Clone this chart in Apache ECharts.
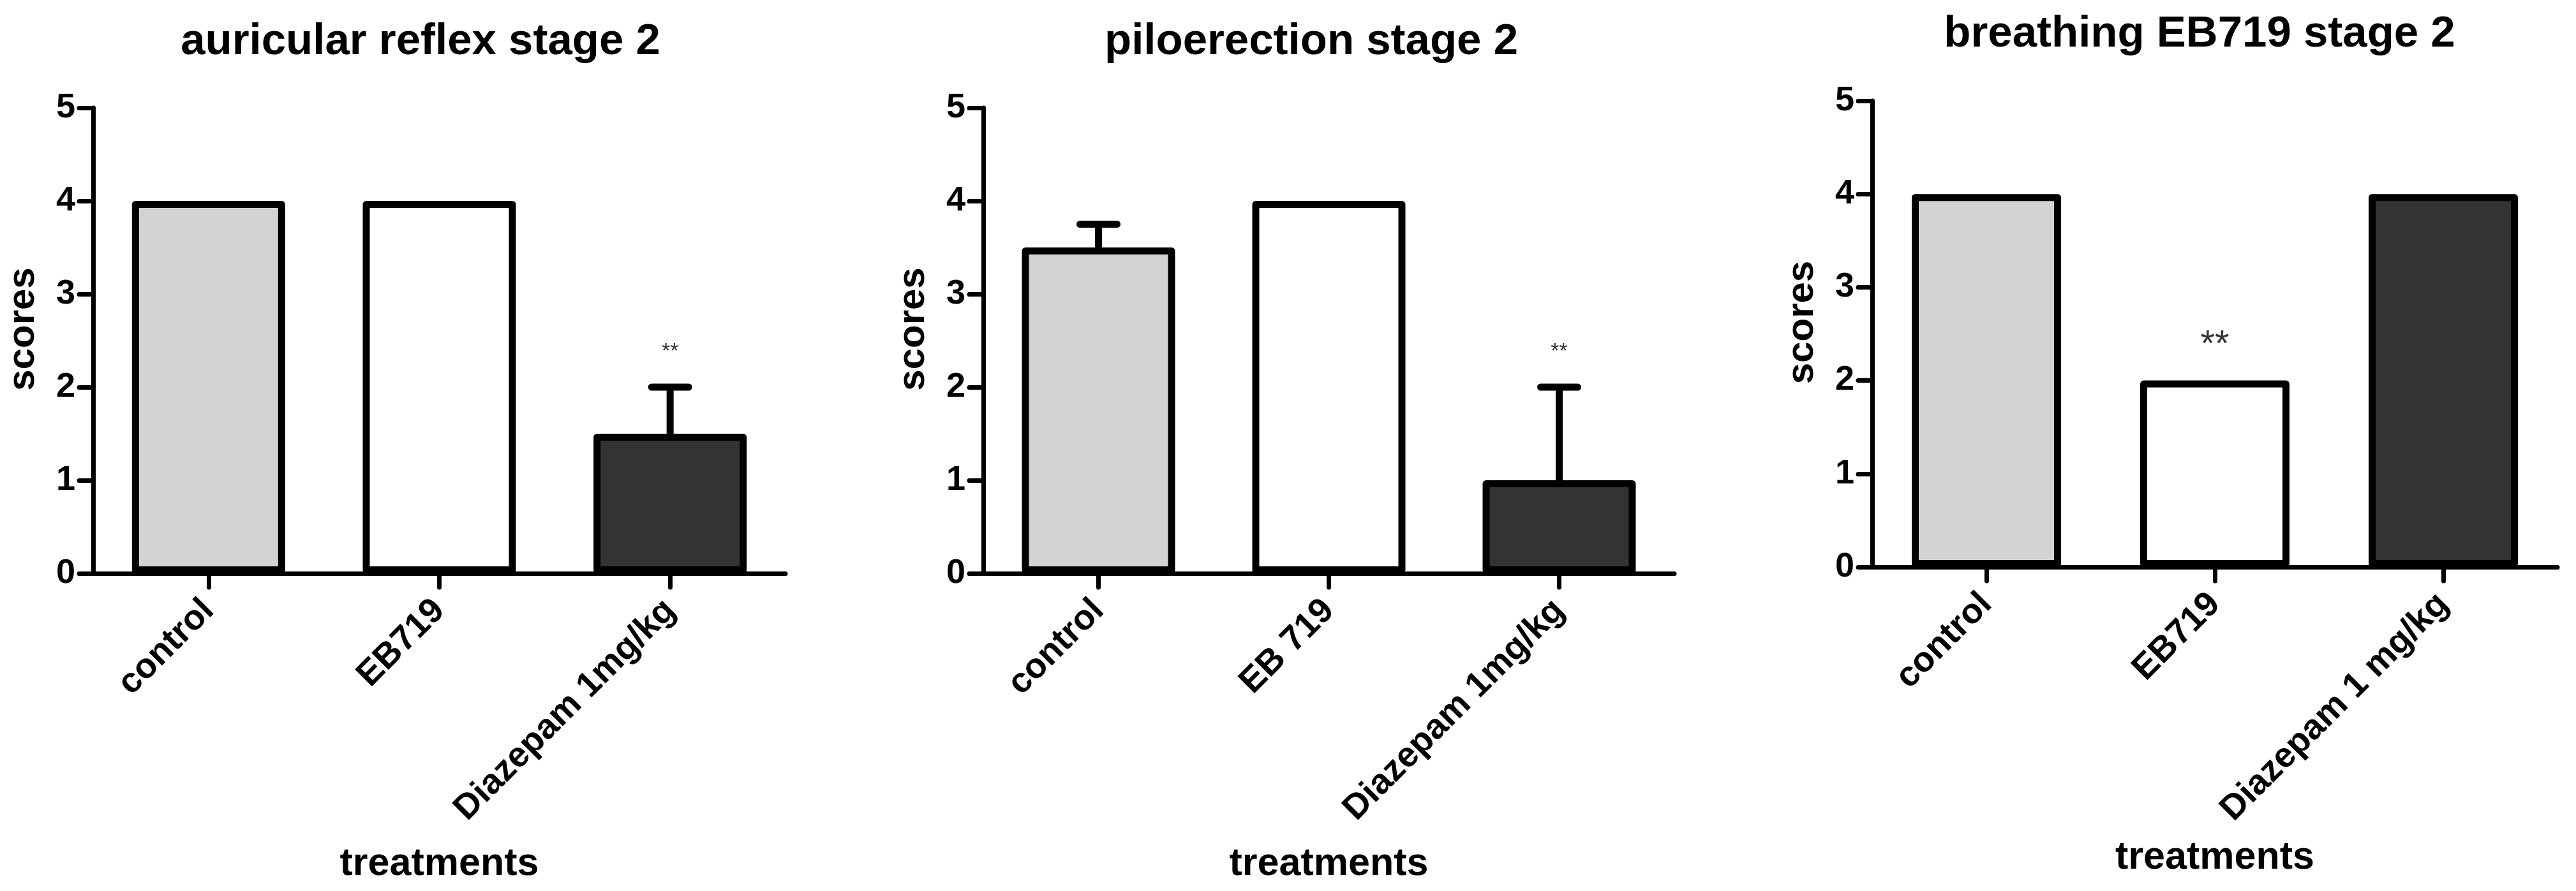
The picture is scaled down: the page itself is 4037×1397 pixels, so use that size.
<!DOCTYPE html>
<html>
<head>
<meta charset="utf-8">
<script src="https://cdn.jsdelivr.net/npm/echarts@6/dist/echarts.min.js"></script>
<style>
html,body{margin:0;padding:0;background:#fff;}
#chart{width:4037px;height:1397px;}
</style>
</head>
<body>
<div id="chart"></div>
<script>
// ---- data ----
const titles = ['auricular reflex stage 2', 'piloerection stage 2', 'breathing EB719 stage 2'];
const categories1 = ['control', 'EB719', 'Diazepam 1mg/kg'];
const categories2 = ['control', 'EB 719', 'Diazepam 1mg/kg'];
const categories3 = ['control', 'EB719', 'Diazepam 1 mg/kg'];
const scores1 = [4, 4, 1.5];
const scores2 = [3.5, 4, 1];
const scores3 = [4, 2, 4];
const errors1 = [0, 0, 0.5];
const errors2 = [0.25, 0, 1];
const errors3 = [0, 0, 0];
const sig1 = ['', '', '**'];
const sig2 = ['', '', '**'];
const sig3 = ['', '**', ''];
const sigLevel = 2.5;
const yTicks = [0, 1, 2, 3, 4, 5];
const yName = 'scores';
const xName = 'treatments';
const barColors = ['#d3d3d3', '#ffffff', '#333333'];

// ---- layout / style ----
const FONT = '"Liberation Sans", Arial, sans-serif';
const panels = [
  {cats: categories1, vals: scores1, errs: errors1, sig: sig1, grid: {left: 146, top: 169, width: 1085, height: 730}, barWidth: 240, titleX: 654, titleTop: 26, sigSize: 34},
  {cats: categories2, vals: scores2, errs: errors2, sig: sig2, grid: {left: 1541, top: 169, width: 1083, height: 730}, barWidth: 240, titleX: 2050, titleTop: 26, sigSize: 34},
  {cats: categories3, vals: scores3, errs: errors3, sig: sig3, grid: {left: 2934, top: 158, width: 1074, height: 731}, barWidth: 234, titleX: 3442, titleTop: 14, sigSize: 58}
];

const option = {
  backgroundColor: '#ffffff',
  animation: false,
  title: [], grid: [], xAxis: [], yAxis: [], series: []
};

panels.forEach((p, i) => {
  option.title.push({
    text: titles[i], left: p.titleX, top: p.titleTop, textAlign: 'center',
    textStyle: {fontFamily: FONT, fontWeight: 'bold', fontSize: 69, color: '#000'}
  });
  option.grid.push(Object.assign({containLabel: false}, p.grid));
  option.xAxis.push({
    type: 'category', gridIndex: i, data: p.cats,
    axisLine: {lineStyle: {color: '#000', width: 7, cap: 'round'}},
    axisTick: {show: true, alignWithLabel: true, length: 22, lineStyle: {color: '#000', width: 7, cap: 'round'}},
    axisLabel: {rotate: 45, margin: 50, fontFamily: FONT, fontWeight: 'bold', fontSize: 55, color: '#000', interval: 0},
    name: xName, nameLocation: 'middle', nameGap: 426,
    nameTextStyle: {fontFamily: FONT, fontWeight: 'bold', fontSize: 61, color: '#000'}
  });
  option.yAxis.push({
    type: 'value', gridIndex: i, min: yTicks[0], max: yTicks[yTicks.length - 1], interval: 1,
    axisLine: {show: true, lineStyle: {color: '#000', width: 7, cap: 'round'}},
    axisTick: {show: true, length: 22, lineStyle: {color: '#000', width: 7, cap: 'round'}},
    splitLine: {show: false},
    axisLabel: {margin: 28, fontFamily: FONT, fontWeight: 'bold', fontSize: 54, color: '#000'},
    name: yName, nameLocation: 'middle', nameGap: 80,
    nameTextStyle: {fontFamily: FONT, fontWeight: 'bold', fontSize: 60, color: '#000', padding: [0, 0, 0, 36]}
  });
  option.series.push({
    type: 'bar', xAxisIndex: i, yAxisIndex: i, barWidth: p.barWidth,
    data: p.vals.map((v, k) => ({value: v, itemStyle: {color: barColors[k]}})),
    itemStyle: {borderColor: '#000', borderWidth: 11, borderJoin: 'round'},
    z: 2
  });
  option.series.push({
    type: 'custom', xAxisIndex: i, yAxisIndex: i, z: 3,
    data: p.vals.map((v, k) => [k, v, p.errs[k]]),
    encode: {x: 0, y: 1},
    renderItem: function (params, api) {
      const k = api.value(0), v = api.value(1), e = api.value(2);
      if (!e) return null;
      const a = api.coord([k, v]);
      const b = api.coord([k, v + e]);
      return {
        type: 'group', children: [
          {type: 'line', shape: {x1: a[0], y1: a[1], x2: b[0], y2: b[1]}, style: {stroke: '#000', lineWidth: 11}},
          {type: 'line', shape: {x1: b[0] - 29, y1: b[1], x2: b[0] + 29, y2: b[1]}, style: {stroke: '#000', lineWidth: 11, lineCap: 'round'}}
        ]
      };
    }
  });
  option.series.push({
    type: 'scatter', xAxisIndex: i, yAxisIndex: i, symbolSize: 0, z: 4,
    data: p.sig.map((s, k) => s ? {value: [k, sigLevel], name: s} : null).filter(Boolean),
    label: {show: true, position: 'inside', offset: [0, 18], formatter: '{b}', fontFamily: FONT, fontSize: p.sigSize, color: '#000'}
  });
});

const chart = echarts.init(document.getElementById('chart'), null, {renderer: 'canvas'});
chart.setOption(option);
</script>
</body>
</html>
